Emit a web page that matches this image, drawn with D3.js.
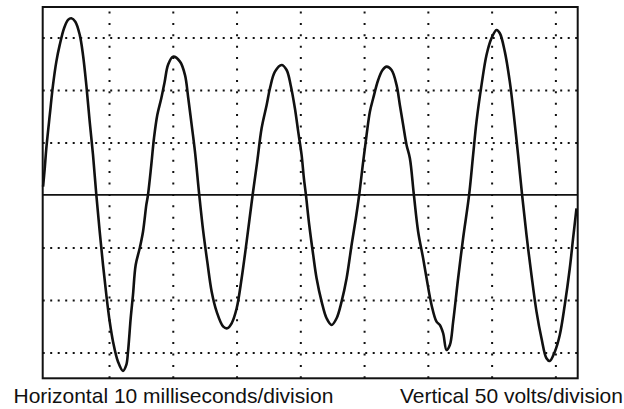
<!DOCTYPE html>
<html>
<head>
<meta charset="utf-8">
<script src="https://cdn.jsdelivr.net/npm/d3@7/dist/d3.min.js"></script>
<style>
  html, body { margin: 0; padding: 0; background: #fff; }
  svg { display: block; }
</style>
</head>
<body>
<svg id="chart" width="624" height="409"></svg>
<script>
// Time in milliseconds (10 ms per division)
const timeMs = [
  -0.34, -0.08, 0.17, 0.71, 1.22, 1.74, 2.27, 2.95, 3.57, 4.09, 4.72, 5.41, 5.92, 6.44, 6.97, 7.49,
  8.01, 8.54, 9.06, 9.58, 10.11, 10.63, 11.41, 12.19, 12.71, 12.98, 13.40, 13.76, 14.18, 14.81,
  15.33, 15.85, 16.11, 16.63, 17.05, 17.57, 18.20, 18.73, 19.25, 20.03,
  21.13, 21.91, 22.43, 22.96, 23.48, 24.15, 24.78, 25.41, 26.10, 26.88, 27.92, 28.54, 29.23,
  30.02, 30.80, 31.58, 32.52, 33.24, 33.93, 34.72, 35.24, 36.02, 37.07, 37.85, 38.48, 39.15,
  39.67, 40.20, 40.56, 40.88, 41.40, 42.02, 42.55, 43.34, 44.12, 44.91, 45.69, 46.47, 47.26,
  48.04, 48.71, 49.23, 49.86, 50.39, 50.91, 51.43, 52.21, 52.90, 53.53, 54.31, 55.09, 55.61,
  56.13, 56.66, 57.18, 57.81, 58.48, 59.26, 59.80, 60.58, 61.36, 61.88, 62.40, 62.93, 63.45,
  63.97, 64.75, 65.53, 66.47, 67.10, 67.63, 68.42, 69.20, 69.98, 70.77, 71.29, 72.07, 72.85,
  73.48, 74.15, 74.78, 75.47, 76.25, 77.04, 77.82, 78.60, 79.12, 79.91, 80.69, 81.47, 82.26,
  82.78, 83.31
];
// Voltage in volts (50 V per division)
const voltage = [
  8.0, 25.4, 44.5, 76.2, 104.8, 127.0, 142.9, 158.8, 166.7, 168.3, 165.0, 152.4, 133.3, 104.8, 69.8, 38.1,
  0, -35.0, -66.7, -95.2, -120.7, -139.7, -158.8, -167.6, -161.9, -149.2, -117.4, -95.2, -66.7, -50.8,
  -35.0, -9.5, 0, 28.6, 54.0, 76.2, 92.1, 107.9, 123.8, 131.7,
  127.0, 114.3, 92.1, 66.7, 41.2, 0, -35.0, -63.5, -92.1, -111.1, -125.4, -127.0, -122.2,
  -107.9, -79.3, -44.5, 0, 31.7, 63.5, 85.7, 101.6, 117.4, 123.8, 119.0, 104.8, 82.6,
  60.3, 38.1, 15.9, 0, -28.6, -57.1, -79.3, -101.6, -117.4, -123.8, -117.4, -101.6, -79.3,
  -47.6, -22.2, 0, 31.7, 57.1, 79.3, 92.1, 109.5, 119.0, 122.2, 119.0, 104.8, 85.7,
  66.7, 47.6, 35.0, 0, -35.0, -60.3, -79.3, -104.8, -120.7, -123.8, -131.7, -147.6, -142.9,
  -120.7, -79.3, -41.2, 0, 38.1, 69.8, 104.8, 133.3, 149.2, 157.1, 154.0, 136.5, 107.9,
  76.2, 38.1, 0, -38.1, -76.2, -111.1, -136.5, -155.5, -158.1, -149.2, -133.3, -104.8, -69.8,
  -41.2, -12.7
];
// Grid divisions
const timeTicks = [10, 20, 30, 40, 50, 60, 70, 80];
const voltTicks = [-150, -100, -50, 50, 100, 150];
const xLabel = "Horizontal 10 milliseconds/division";
const yLabel = "Vertical 50 volts/division";

const svg = d3.select("#chart");
const pLeft = 42.7, pRight = 577.7, pTop = 7, pBottom = 378.3;

const x = d3.scaleLinear().domain([-0.4, 83.5]).range([pLeft, pRight]);
const y = d3.scaleLinear().domain([-174.6, 179]).range([pBottom, pTop]);

// Vertical dotted grid via axis
const gx = svg.append("g")
  .attr("transform", `translate(0,${pBottom})`)
  .call(d3.axisBottom(x).tickValues(timeTicks).tickSize(-(pBottom - pTop)).tickFormat(""));
gx.select(".domain").remove();
gx.selectAll(".tick line")
  .attr("stroke", "#111")
  .attr("stroke-width", 2)
  .attr("stroke-dasharray", "2 9.4");

// Horizontal dotted grid via axis
const gy = svg.append("g")
  .attr("transform", `translate(${pLeft},0)`)
  .call(d3.axisLeft(y).tickValues(voltTicks).tickSize(-(pRight - pLeft)).tickFormat(""));
gy.select(".domain").remove();
gy.selectAll(".tick line")
  .attr("stroke", "#111")
  .attr("stroke-width", 2)
  .attr("stroke-dasharray", "2 5.5");

// Zero line
svg.append("line")
  .attr("x1", pLeft).attr("x2", pRight)
  .attr("y1", y(0)).attr("y2", y(0))
  .attr("stroke", "#111").attr("stroke-width", 1.8);

// Waveform
const pts = timeMs.map((t, i) => [t, voltage[i]]);
svg.append("path")
  .datum(pts)
  .attr("fill", "none")
  .attr("stroke", "#111")
  .attr("stroke-width", 2.6)
  .attr("stroke-linejoin", "round")
  .attr("d", d3.line().x(d => x(d[0])).y(d => y(d[1])).curve(d3.curveCatmullRom.alpha(0.5)));

// Frame
svg.append("rect")
  .attr("x", pLeft).attr("y", pTop)
  .attr("width", pRight - pLeft).attr("height", pBottom - pTop)
  .attr("fill", "none").attr("stroke", "#111").attr("stroke-width", 2);

// Labels
svg.append("text")
  .attr("x", 13.5).attr("y", 402.5)
  .attr("font-family", "Liberation Sans, Arial, sans-serif")
  .attr("font-size", 21).attr("fill", "#111")
  .text(xLabel);
svg.append("text")
  .attr("x", 400).attr("y", 402.5)
  .attr("font-family", "Liberation Sans, Arial, sans-serif")
  .attr("font-size", 21).attr("fill", "#111")
  .text(yLabel);
</script>
</body>
</html>
